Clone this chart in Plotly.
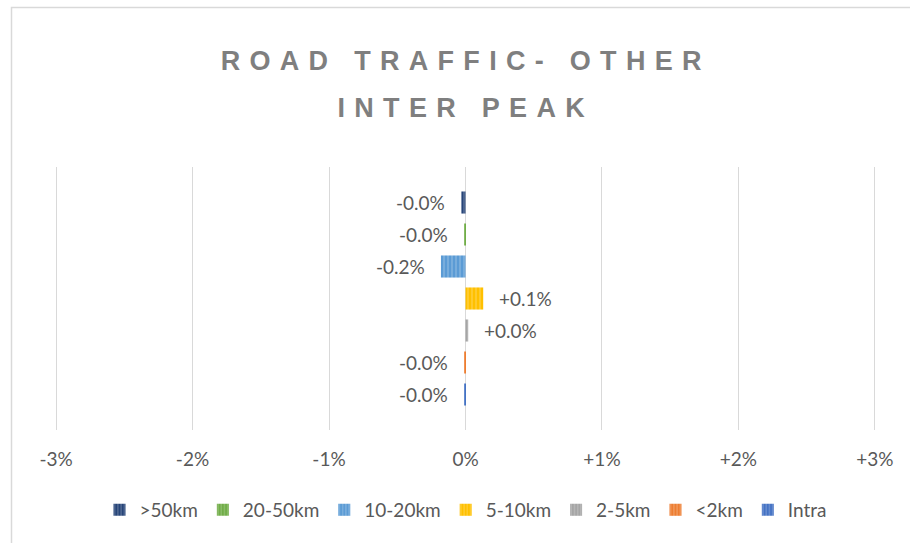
import plotly.graph_objects as go

series_names = [">50km", "20-50km", "10-20km", "5-10km", "2-5km", "<2km", "Intra"]
series_values = [-0.03, -0.01, -0.18, 0.13, 0.02, -0.01, -0.01]  # percent
series_colors = ["#264478", "#70AD47", "#5B9BD5", "#FFC000", "#A5A5A5", "#ED7D31", "#4472C4"]
tick_values = [-3, -2, -1, 0, 1, 2, 3]
tick_labels = ["-3%", "-2%", "-1%", "0%", "+1%", "+2%", "+3%"]
title_lines = ["ROAD TRAFFIC- OTHER", "INTER PEAK"]

FONT = "Lato, 'Open Sans', sans-serif"
TFONT = "'Liberation Sans', Arial, sans-serif"
TXT = "#595959"

fig = go.Figure()
for name, val, col in zip(series_names, series_values, series_colors):
    fig.add_trace(go.Bar(
        x=[val], y=[name], name=name, orientation="h",
        marker=dict(color=col, line=dict(width=0),
                    pattern=dict(shape="|", fgcolor="white", fgopacity=0.35, size=4, solidity=0.25)),
        hoverinfo="skip",
    ))

annotations = []
for name, val in zip(series_names, series_values):
    label = f"{val:+.1f}%"
    annotations.append(dict(x=val, y=name, xref="x", yref="y", text=label, showarrow=False,
                            xanchor="left" if val > 0 else "right",
                            xshift=14 if val > 0 else -14,
                            font=dict(family=FONT, size=19, color=TXT)))

title_ann = [
    dict(x=0.5, y=1.403, xref="paper", yref="paper", text="<b>" + title_lines[0] + "</b>", showarrow=False,
         xanchor="center", yanchor="middle",
         font=dict(family=TFONT, size=27, color="#7F7F7F", weight=700)),
    dict(x=0.5, y=1.224, xref="paper", yref="paper", text="<b>" + title_lines[1] + "</b>", showarrow=False,
         xanchor="center", yanchor="middle",
         font=dict(family=TFONT, size=27, color="#7F7F7F", weight=700)),
]

fig.update_layout(
    width=910, height=543,
    margin=dict(l=54, r=33, t=167, b=113),
    paper_bgcolor="white", plot_bgcolor="white",
    barmode="relative", bargap=0.31,
    showlegend=True,
    legend=dict(orientation="h", x=0.5, xanchor="center", y=-0.304, yanchor="middle",
                font=dict(family=FONT, size=19, color=TXT), itemwidth=30,
                traceorder="normal"),
    xaxis=dict(range=[-3.015, 3.015], tickvals=tick_values, ticktext=tick_labels,
               showgrid=True, gridcolor="#D9D9D9", gridwidth=1,
               zeroline=True, zerolinecolor="#D9D9D9", zerolinewidth=1,
               showline=False, ticks="", ticklabelstandoff=16,
               tickfont=dict(family=FONT, size=19, color=TXT), fixedrange=True),
    yaxis=dict(type="category", categoryorder="array", categoryarray=series_names[::-1],
               range=[-1.11, 7.11], showticklabels=False, showgrid=False,
               zeroline=False, showline=False, ticks="", fixedrange=True),
    annotations=title_ann + annotations,
    shapes=[dict(type="rect", xref="paper", yref="paper",
                 x0=(11.5 - 54) / 823, x1=(960 - 54) / 823,
                 y0=(430 - 600) / 263, y1=(430 - 7.5) / 263,
                 line=dict(color="#D9D9D9", width=1.5), fillcolor="rgba(0,0,0,0)", layer="below")],
)

post = """
document.documentElement.style.margin = '0';
document.body.style.margin = '0';
document.body.style.overflow = 'hidden';
var gd = document.getElementById('{plot_id}');
gd.querySelectorAll('g.annotation[data-index="0"] text, g.annotation[data-index="1"] text')
  .forEach(function(t){ t.style.letterSpacing = '9.3px'; t.style.fontWeight = '700'; });
"""
fig.write_html("out.html", post_script=post, config={"displayModeBar": False})
